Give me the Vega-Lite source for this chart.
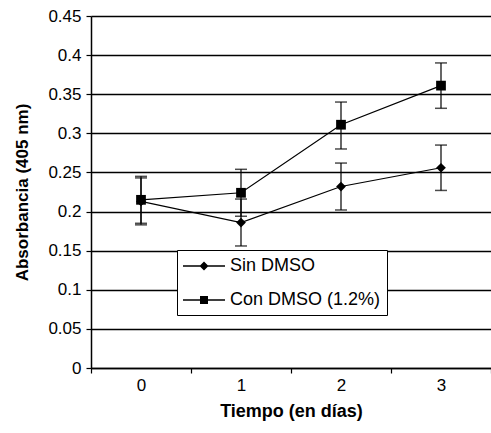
{
  "$schema": "https://vega.github.io/schema/vega-lite/v6.json",
  "autosize": "none",
  "width": 400,
  "height": 352,
  "padding": {"left": 91, "top": 16, "right": 0, "bottom": 65},
  "background": "white",
  "config": {
    "font": "Liberation Sans",
    "view": {"stroke": null},
    "axis": {"labelFont": "Liberation Sans", "titleFont": "Liberation Sans", "labelColor": "black", "titleColor": "black", "domainColor": "black", "tickColor": "black"},
    "axisY": {
      "title": "Absorbancia (405 nm)", "values": [0, 0.05, 0.1, 0.15, 0.2, 0.25, 0.3, 0.35, 0.4, 0.45], "tickCount": 9,
      "format": "~g", "grid": true, "gridColor": "black", "gridWidth": 1.5, "gridOpacity": 1,
      "labelFontSize": 17, "titleFontSize": 17, "titleFontWeight": "bold",
      "tickSize": 5, "labelPadding": 5, "titlePadding": 16, "domainWidth": 1.5, "tickWidth": 1.2
    }
  },
  "data": {"values": [
    {"dia": "0", "serie": "Sin DMSO", "abs": 0.213, "lo": 0.183, "hi": 0.243},
    {"dia": "1", "serie": "Sin DMSO", "abs": 0.186, "lo": 0.156, "hi": 0.216},
    {"dia": "2", "serie": "Sin DMSO", "abs": 0.232, "lo": 0.202, "hi": 0.262},
    {"dia": "3", "serie": "Sin DMSO", "abs": 0.256, "lo": 0.227, "hi": 0.285},
    {"dia": "0", "serie": "Con DMSO (1.2%)", "abs": 0.215, "lo": 0.185, "hi": 0.245},
    {"dia": "1", "serie": "Con DMSO (1.2%)", "abs": 0.224, "lo": 0.194, "hi": 0.254},
    {"dia": "2", "serie": "Con DMSO (1.2%)", "abs": 0.311, "lo": 0.28, "hi": 0.34},
    {"dia": "3", "serie": "Con DMSO (1.2%)", "abs": 0.361, "lo": 0.332, "hi": 0.39}
  ]},
  "encoding": {
    "x": {
      "field": "dia", "type": "ordinal",
      "scale": {"paddingInner": 0, "paddingOuter": 0},
      "axis": {
        "title": "Tiempo (en días)", "labelAngle": 0, "tickBand": "extent",
        "labelFontSize": 17, "titleFontSize": 18, "titleFontWeight": "bold",
        "tickSize": 5, "labelPadding": 4, "titlePadding": 9, "domainWidth": 1.5, "tickWidth": 1.2, "grid": false
      }
    }
  },
  "resolve": {"scale": {"shape": "independent"}, "legend": {"shape": "independent"}},
  "layer": [
    {
      "mark": {"type": "rule", "color": "black", "strokeWidth": 1.2},
      "encoding": {
        "y": {
          "field": "lo", "type": "quantitative",
          "scale": {"domain": [0, 0.45], "nice": false},
          "title": "Absorbancia (405 nm)"
        },
        "y2": {"field": "hi"}
      }
    },
    {
      "mark": {"type": "tick", "color": "black", "size": 12, "thickness": 1.5, "orient": "horizontal"},
      "encoding": {"y": {"field": "lo", "type": "quantitative", "title": "Absorbancia (405 nm)"}}
    },
    {
      "mark": {"type": "tick", "color": "black", "size": 12, "thickness": 1.5, "orient": "horizontal"},
      "encoding": {"y": {"field": "hi", "type": "quantitative", "title": "Absorbancia (405 nm)"}}
    },
    {
      "mark": {"type": "line", "color": "black", "strokeWidth": 1.2},
      "encoding": {
        "y": {"field": "abs", "type": "quantitative", "title": "Absorbancia (405 nm)"},
        "detail": {"field": "serie"}
      }
    },
    {
      "mark": {"type": "point", "filled": true, "color": "black", "opacity": 1},
      "encoding": {
        "y": {"field": "abs", "type": "quantitative", "title": "Absorbancia (405 nm)"},
        "shape": {
          "field": "serie", "type": "nominal",
          "scale": {"domain": ["Sin DMSO", "Con DMSO (1.2%)"], "range": ["diamond", "square"]},
          "legend": null
        },
        "size": {"value": 95}
      }
    },
    {
      "mark": {"type": "point", "filled": true, "color": "black", "opacity": 1},
      "encoding": {
        "y": {"field": "nada", "type": "quantitative", "title": "Absorbancia (405 nm)"},
        "shape": {
          "field": "serie", "type": "nominal",
          "scale": {"domain": ["Sin DMSO", "Con DMSO (1.2%)"], "range": ["M-1,-0.07H3.2V0.07H-1Z M0.65,0L1.1,-0.45L1.55,0L1.1,0.45Z", "M-1,-0.07H3.2V0.07H-1Z M0.7,-0.4H1.5V0.4H0.7Z"]},
          "legend": {
            "title": null, "orient": "none", "legendX": 86, "legendY": 234,
            "strokeColor": "black", "fillColor": "white", "padding": 6,
            "labelFontSize": 18, "labelColor": "black", "labelFont": "Liberation Sans",
            "symbolSize": 400, "symbolFillColor": "black", "symbolStrokeWidth": 0,
            "rowPadding": 15, "labelOffset": 27
          }
        }
      }
    }
  ]
}
